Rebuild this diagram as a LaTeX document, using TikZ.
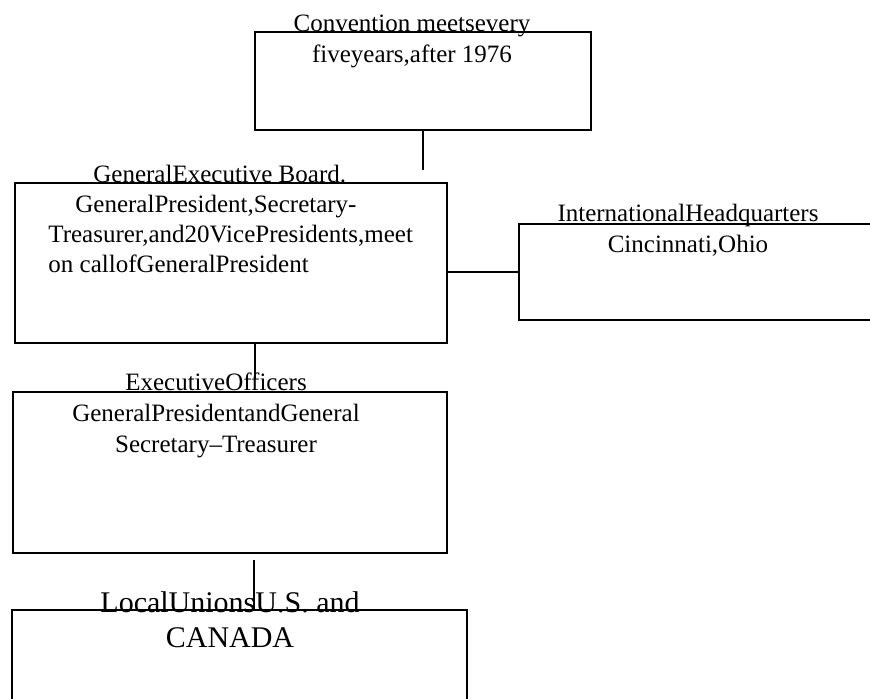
\documentclass[tikz,border=0pt]{standalone}
\usepackage{fontspec}
\setmainfont{Liberation Serif}

\begin{document}
\begin{tikzpicture}[x=0.5pt, y=-0.5pt,
    box/.style={draw, line width=1pt, inner sep=0pt},
    box text/.style={inner sep=0pt, align=center, font=\fontsize{12.5}{15.5}\selectfont},
    big text/.style={box text, font=\fontsize{15}{17.5}\selectfont},
    link/.style={draw, line width=1pt}]
    \clip (0,0) rectangle (870,699);

    \node[box, minimum width=168pt, minimum height=49pt] (convention) at (423,81) {};
    \node[box text, anchor=base] (convention text) at (412,63)
        {Convention meetsevery\\fiveyears,after 1976};

    \node[box, minimum width=216pt, minimum height=80pt] (board) at (231,263) {};
    \node[box text, align=left, anchor=base west, font=\fontsize{12.5}{15}\selectfont] (board text) at (48,273)
        {\hspace*{22.5pt}GeneralExecutive Board.\\
         \hspace*{13.5pt}GeneralPresident,Secretary-\\
         Treasurer,and20VicePresidents,meet\\
         on callofGeneralPresident};

    \node[box, minimum width=190.5pt, minimum height=48pt] (hq) at (709.5,272) {};
    \node[box text, anchor=base] (hq text) at (688,253)
        {InternationalHeadquarters\\Cincinnati,Ohio};

    \node[box, minimum width=217pt, minimum height=80.5pt] (officers) at (230,472.5) {};
    \node[box text, anchor=base] (officers text) at (216,452)
        {ExecutiveOfficers\\GeneralPresidentandGeneral\\Secretary--Treasurer};

    \node[box, minimum width=227.5pt, minimum height=70pt] (locals) at (239.5,680) {};
    \node[big text, anchor=base] (locals text) at (230,647)
        {LocalUnionsU.S. and\\CANADA};

    % links
    \draw[link] (convention.south) -- ([yshift=6pt]convention.south |- board.north);
    \draw[link] (board.east |- hq.west) -- (hq.west);
    \draw[link] ([xshift=12pt]board.south) -- ([xshift=12pt, yshift=6pt]board.south |- officers.north);
    \draw[link] ([xshift=12pt, yshift=-3pt]officers.south) -- ([xshift=12pt]officers.south |- locals.north);
\end{tikzpicture}
\end{document}
